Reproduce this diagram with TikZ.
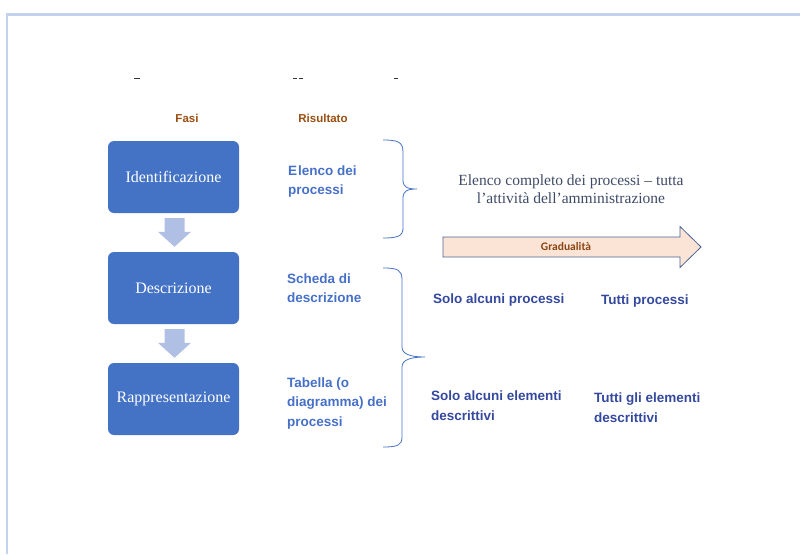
\documentclass[tikz,border=0pt]{standalone}
\usepackage{fontspec}
\setmainfont{Liberation Serif}
\setsansfont{Liberation Sans}
\newfontfamily\calib{Carlito}
\usetikzlibrary{calc}
\definecolor{boxblue}{HTML}{4472C4}
\definecolor{arrowlight}{HTML}{B0C0E4}
\definecolor{framecol}{HTML}{C3D2EE}
\definecolor{resblue}{HTML}{4670C8}
\definecolor{darkblue}{HTML}{34499E}
\definecolor{brown}{HTML}{9A4E10}
\definecolor{peach}{HTML}{FBE4D5}
\definecolor{arrowedge}{HTML}{4A6394}
\definecolor{gradtext}{HTML}{8A4512}
\definecolor{serifgray}{HTML}{3E4A66}
\begin{document}
\begin{tikzpicture}[x=1pt,y=-1pt,
  phase/.style={fill=boxblue, rounded corners=6pt, minimum width=131pt, minimum height=72pt,
    text=white, inner sep=0pt, font=\fontsize{16}{18}\selectfont},
  restext/.style={anchor=north west, inner sep=0pt, align=left, text=resblue,
    font=\sffamily\bfseries\fontsize{13.5}{19.5}\selectfont},
  coltext/.style={anchor=north west, inner sep=0pt, align=left, text=darkblue,
    font=\sffamily\bfseries\fontsize{13.5}{20}\selectfont},
  header/.style={anchor=base, inner sep=0pt, text=brown, font=\sffamily\bfseries\fontsize{11.5}{13}\selectfont},
  brace/.style={draw=boxblue, line width=0.8pt},
  downarrow/.style={fill=arrowlight}
]
\useasboundingbox (0,0) rectangle (800,554);
% frame
\draw[framecol, line width=2.5pt] (7,554) -- (7,14.5) -- (800,14.5);
% cut-off title marks
\foreach \xa/\xb in {134/140, 293/297, 299/303, 394/398}
  \draw[black!80, line width=1pt] (\xa,78) -- (\xb,78);
% headers
\node[header] (fasi) at (187,122) {Fasi};
\node[header] (ris) at (323,122) {Risultato};
% phase boxes
\node[phase] (b1) at (173.5,177) {Identificazione};
\node[phase] (b2) at (173.5,288) {Descrizione};
\node[phase] (b3) at (173.5,399) {Rappresentazione};
% down arrows
\foreach \u/\v in {b1/b2, b2/b3} {
  \path (\u.south) ++(1,5) coordinate (t\u);
  \path (\v.north) ++(1,-5) coordinate (h\u);
  \fill[downarrow] ($(t\u)+(-10,0)$) -- ($(t\u)+(10,0)$) -- ($(h\u)+(10,-15)$) -- ($(h\u)+(16.5,-15)$)
     -- (h\u) -- ($(h\u)+(-16.5,-15)$) -- ($(h\u)+(-10,-15)$) -- cycle;
}
% result texts
\node[restext] (r1) at (288,165.5) {E\hspace{1pt}lenco dei\\processi};
\node[restext] (r2) at (287,273.5) {Scheda di\\descrizione};
\node[restext] (r3) at (287,377.5) {Tabella (o\\diagramma) dei\\processi};
% braces
\coordinate (br1) at (417,189);
\draw[brace] (383,140) .. controls (398,140) and (403,142) .. (403,152) -- (403,180)
  .. controls (403,187) and (407,189) .. (br1)
  .. controls (407,189) and (403,191) .. (403,198) -- (403,228)
  .. controls (403,236) and (398,238) .. (383,238);
\coordinate (br2) at (425,357);
\draw[brace] (383,268) .. controls (398,268) and (402,270) .. (402,280) -- (402,347)
  .. controls (402,354) and (410,357) .. (br2)
  .. controls (410,357) and (402,360) .. (402,367) -- (402,437)
  .. controls (402,445) and (398,447) .. (383,447);
% serif description
\node[anchor=base, inner sep=0pt, align=center, text=serifgray, font=\fontsize{15.5}{18}\selectfont]
  (full) at (571,203) {Elenco completo dei processi -- tutta\\l'attività dell'amministrazione};
% gradualita arrow
\draw[fill=peach, draw=arrowedge, line width=0.8pt]
  (443,237) -- (680,237) -- (680,226.5) -- (701,247) -- (680,267.5) -- (680,257) -- (443,257) -- cycle;
\node[inner sep=0pt, text=gradtext, font=\calib\bfseries\fontsize{11.5}{12}\selectfont] (grad) at (566,247) {Gradualità};
% columns
\node[coltext] (c1) at (433,293.5) {Solo alcuni processi};
\node[coltext] (c2) at (601,294.5) {Tutti processi};
\node[coltext] (c3) at (431,390.5) {Solo alcuni elementi\\descrittivi};
\node[coltext] (c4) at (594,392.5) {Tutti gli elementi\\descrittivi};
\end{tikzpicture}
\end{document}
